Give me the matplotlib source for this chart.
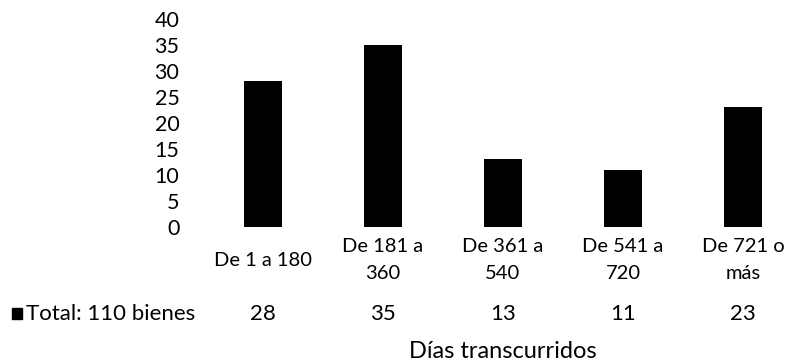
import matplotlib
matplotlib.use("Agg")
import matplotlib.pyplot as plt
from matplotlib.transforms import blended_transform_factory
from matplotlib.patches import Rectangle

categories = ["De 1 a 180", "De 181 a\n360", "De 361 a\n540", "De 541 a\n720", "De 721 o\nmás"]
values = [28, 35, 13, 11, 23]
series_name = "Total: 110 bienes"
y_ticks = [0, 5, 10, 15, 20, 25, 30, 35, 40]
x_title = "Días transcurridos"

plt.rcParams["font.family"] = ["Lato", "DejaVu Sans"]

W, H = 786, 361
fig = plt.figure(figsize=(W / 100, H / 100), dpi=100)

# axes placed in pixel coordinates
left_px, right_px, top_px, bottom_px = 185, 786, 19, 227
ax = fig.add_axes([left_px / W, 1 - bottom_px / H,
                   (right_px - left_px) / W, (bottom_px - top_px) / H])

x = list(range(len(categories)))
ax.bar(x, values, width=0.31, color="black")

# category centres at 263 px with 120 px spacing
x0 = (left_px - 263) / 120
x1 = (right_px - 263) / 120
ax.set_xlim(x0, x1)
ax.set_ylim(0, 40)

for s in ax.spines.values():
    s.set_visible(False)

ax.set_yticks(y_ticks)
ax.set_yticklabels([str(t) for t in y_ticks], fontsize=15.5)
ax.tick_params(axis="y", length=0, pad=4)

ax.set_xticks(x)
ax.set_xticklabels(categories, fontsize=14.5, linespacing=1.7)
ax.tick_params(axis="x", length=0, pad=24)
for lbl in ax.get_xticklabels():
    lbl.set_verticalalignment("center")

# data table row under the categories
trans = blended_transform_factory(ax.transData, fig.transFigure)
row_y = 1 - 314 / H
for xi, v in zip(x, values):
    ax.text(xi, row_y, str(v), transform=trans, ha="center", va="center",
            fontsize=16, clip_on=False)

fig.patches.append(Rectangle((12 / W, 1 - 319 / H), 10 / W, 11 / H,
                             transform=fig.transFigure, color="black"))
fig.text(26 / W, row_y, series_name, ha="left", va="center", fontsize=16)

ax.text(2, 1 - 351 / H, x_title, transform=trans, ha="center", va="center",
        fontsize=17, clip_on=False)

fig.savefig("out.png", dpi=100)
